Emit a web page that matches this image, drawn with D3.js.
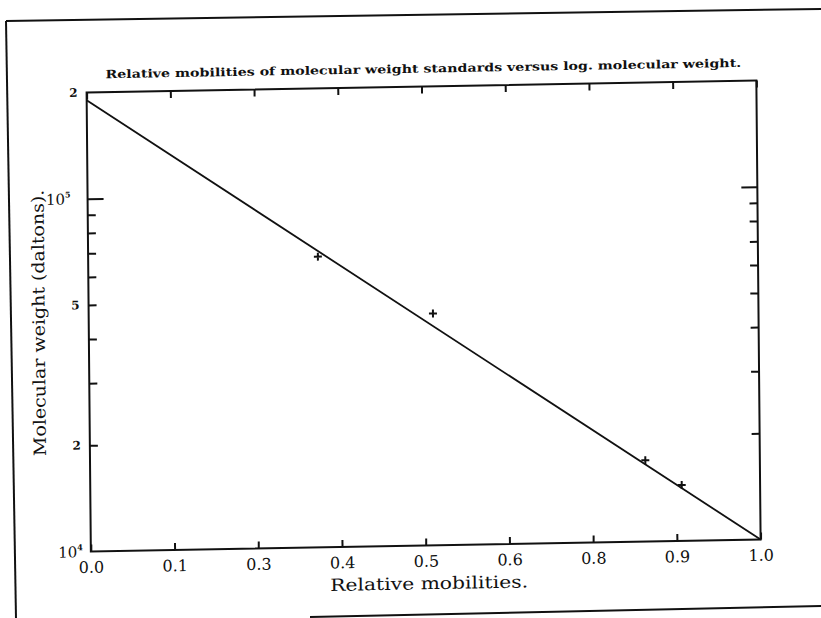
<!DOCTYPE html>
<html>
<head>
<meta charset="utf-8">
<script src="https://cdn.jsdelivr.net/npm/d3@7/dist/d3.min.js"></script>
<style>
  html, body { margin: 0; padding: 0; background: #ffffff; }
  svg { display: block; }
  text { fill: #111; }
</style>
</head>
<body>
<svg id="chart" width="821" height="618"></svg>
<script>
// Calibration: relative mobility of each standard and its molecular weight (daltons)
const mobility = [0.343, 0.514, 0.829, 0.883];
const molWeight = [66700, 45400, 17000, 14400];

// Least-squares line, log(MW) against mobility, given by its two end points
const fitMobility = [0.0, 1.0];
const fitWeight = [190000, 10000];

// Axis ticks and their printed labels
const xTickValues = [0, 0.125, 0.25, 0.375, 0.5, 0.625, 0.75, 0.875, 1.0];
const xTickLabels = ["0.0", "0.1", "0.3", "0.4", "0.5", "0.6", "0.8", "0.9", "1.0"];
const yMajorTicks = [1e5];
const yMinorTicks = [2e4, 3e4, 4e4, 5e4, 6e4, 7e4, 8e4, 9e4];
const yLabelValues = [1e4, 2e4, 5e4, 1e5, 2e5];
const yLabelBase = ["10", "2", "5", "10", "2"];
const yLabelSup = ["4", "", "", "5", ""];

const titleText = "Relative mobilities of molecular weight standards versus log. molecular weight.";
const xTitle = "Relative mobilities.";
const yTitle = "Molecular weight (daltons).";

const W = 670, H = 462;
const svg = d3.select("#chart");
svg.append("rect").attr("width", 821).attr("height", 618).attr("fill", "#fff");

// Page border around the figure
const border = svg.append("g").attr("fill", "none").attr("stroke", "#111").attr("stroke-width", 2);
border.append("path").attr("d", "M6,21L821,9");
border.append("path").attr("d", "M6,21L16,618");
border.append("path").attr("d", "M310,617L821,606");

// Plot group, slightly skewed like the printed sheet
const g = svg.append("g")
  .attr("transform", "matrix(0.99963,-0.0179,0.0092,0.9935,86.6,92.5)");

const x = d3.scaleLinear().domain([0, 1]).range([0, W]);
const y = d3.scaleLog().domain([1e4, 2e5]).range([H, 0]);

const font = "'DejaVu Serif', 'Liberation Serif', serif";

// Frame
g.append("rect").attr("x", 0).attr("y", 0).attr("width", W).attr("height", H)
  .attr("fill", "none").attr("stroke", "#111").attr("stroke-width", 2);

function styleTicks(sel) {
  sel.select(".domain").remove();
  sel.selectAll(".tick line").attr("stroke", "#111").attr("stroke-width", 2);
}

// Inward ticks on all four sides
g.append("g").attr("transform", `translate(0,${H})`)
  .call(d3.axisTop(x).tickValues(xTickValues).tickSize(7).tickFormat(""))
  .call(styleTicks);
g.append("g")
  .call(d3.axisBottom(x).tickValues(xTickValues).tickSize(7).tickFormat(""))
  .call(styleTicks);
g.append("g")
  .call(d3.axisRight(y).tickValues(yMinorTicks).tickSize(8).tickFormat(""))
  .call(styleTicks);
g.append("g")
  .call(d3.axisRight(y).tickValues(yMajorTicks).tickSize(16).tickFormat(""))
  .call(styleTicks);
g.append("g").attr("transform", `translate(${W},0)`)
  .call(d3.axisLeft(y).tickValues(yMinorTicks).tickSize(8).tickFormat(""))
  .call(styleTicks);
g.append("g").attr("transform", `translate(${W},0)`)
  .call(d3.axisLeft(y).tickValues(yMajorTicks).tickSize(16).tickFormat(""))
  .call(styleTicks);

// X tick labels
const xLab = g.append("g").attr("transform", `translate(0,${H})`)
  .call(d3.axisBottom(x).tickValues(xTickValues).tickSize(0).tickPadding(10)
    .tickFormat((d, i) => xTickLabels[i]));
xLab.select(".domain").remove();
xLab.selectAll("text").attr("font-family", font).attr("font-size", 16).attr("fill", "#111");

// Y tick labels
const yl = g.append("g");
yLabelValues.forEach((v, i) => {
  const t = yl.append("text")
    .attr("x", v === 1e4 ? -8 : (yLabelSup[i] ? -17 : -9))
    .attr("y", y(v)).attr("dy", "0.35em")
    .attr("text-anchor", "end").attr("font-family", font);
  if (yLabelSup[i]) {
    t.append("tspan").attr("font-size", 15).text(yLabelBase[i]);
    t.append("tspan").attr("font-size", 8).attr("font-weight", "bold")
      .attr("dy", "-0.9em").text(yLabelSup[i]);
  } else {
    t.attr("font-size", 12).attr("font-weight", "bold").text(yLabelBase[i]);
  }
});

// Titles
g.append("text").attr("x", W / 2 + 2).attr("y", -14).attr("text-anchor", "middle")
  .attr("font-family", font).attr("font-size", 11.5).attr("font-weight", "bold")
  .attr("textLength", 636).attr("lengthAdjust", "spacingAndGlyphs")
  .text(titleText);
g.append("text").attr("x", 338).attr("y", H + 44).attr("text-anchor", "middle")
  .attr("font-family", font).attr("font-size", 17)
  .attr("textLength", 198).attr("lengthAdjust", "spacingAndGlyphs")
  .text(xTitle);
g.append("text").attr("transform", `translate(-50,${H / 2}) rotate(-90)`)
  .attr("text-anchor", "middle").attr("dy", "0.35em")
  .attr("font-family", font).attr("font-size", 17)
  .attr("textLength", 268).attr("lengthAdjust", "spacingAndGlyphs")
  .text(yTitle);

// Fitted line
const fit = fitMobility.map((m, i) => [m, fitWeight[i]]);
g.append("path").datum(fit)
  .attr("d", d3.line().x(d => x(d[0])).y(d => y(d[1])))
  .attr("fill", "none").attr("stroke", "#111").attr("stroke-width", 1.8);

// Standards as plus marks
const pts = mobility.map((m, i) => [m, molWeight[i]]);
g.append("g").selectAll("path").data(pts).join("path")
  .attr("d", d => {
    const px = x(d[0]), py = y(d[1]);
    return `M${px - 4},${py}H${px + 4}M${px},${py - 4}V${py + 4}`;
  })
  .attr("stroke", "#111").attr("stroke-width", 2).attr("fill", "none");
</script>
</body>
</html>
